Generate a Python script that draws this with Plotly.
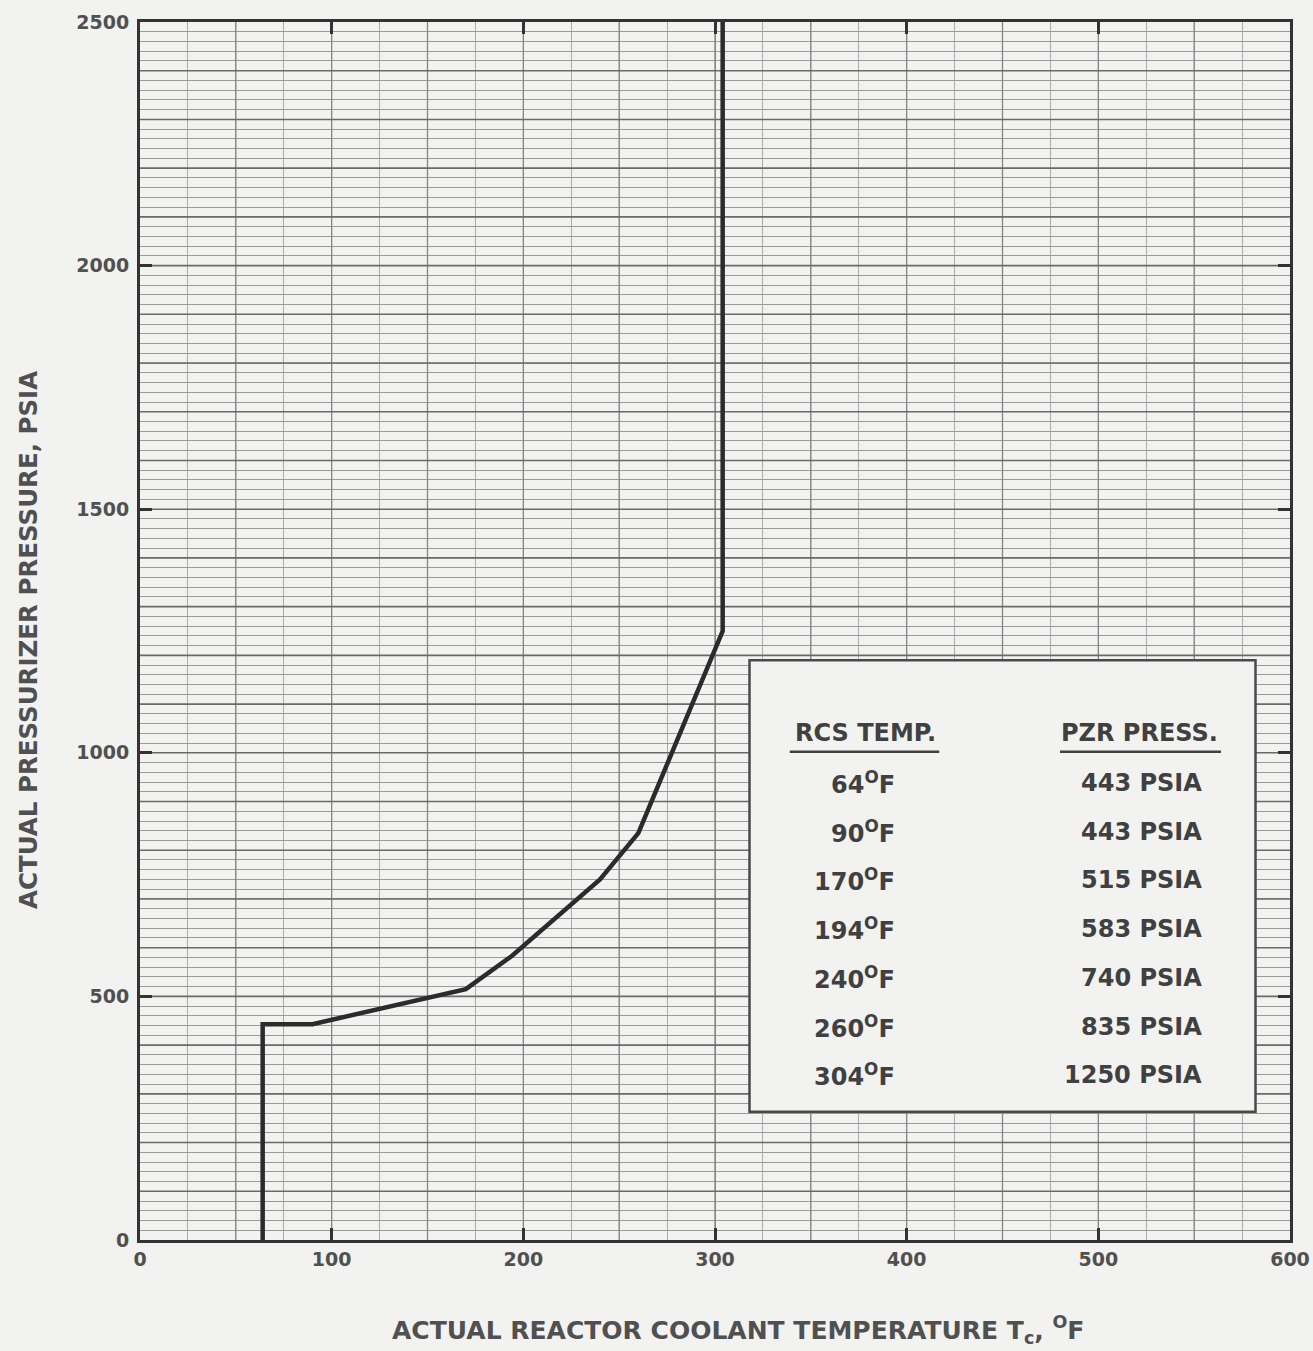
import plotly.graph_objects as go

# ---- data ----
rcs_temp_f = [64, 90, 170, 194, 240, 260, 304]
pzr_press_psia = [443, 443, 515, 583, 740, 835, 1250]
curve_start = (64, 0)
curve_end = (304, 2500)

x_ticks = [0, 100, 200, 300, 400, 500, 600]
y_ticks = [0, 500, 1000, 1500, 2000, 2500]

x_title = "ACTUAL REACTOR COOLANT TEMPERATURE T<sub>c</sub>, <sup>O</sup>F"
y_title = "ACTUAL PRESSURIZER PRESSURE, PSIA"

BG = "#f2f2f0"
INK = "#404040"
LABEL = "#505050"
FONT = "DejaVu Sans, Liberation Sans, Arial, sans-serif"

curve_x = [curve_start[0]] + rcs_temp_f + [curve_end[0]]
curve_y = [curve_start[1]] + pzr_press_psia + [curve_end[1]]

fig = go.Figure()
fig.add_trace(go.Scatter(x=curve_x, y=curve_y, mode="lines",
                         line=dict(color="#2b2b2b", width=4.5),
                         showlegend=False, hoverinfo="skip"))

shapes = []
# darker grid lines every 50 F and every 100 psia
for xv in range(50, 600, 50):
    shapes.append(dict(type="line", xref="x", yref="y", x0=xv, x1=xv, y0=0, y1=2500,
                       line=dict(color="#858585", width=1.3), layer="between"))
for yv in range(100, 2500, 100):
    shapes.append(dict(type="line", xref="x", yref="y", x0=0, x1=600, y0=yv, y1=yv,
                       line=dict(color="#6a6a6a", width=1.6), layer="between"))

# table box
box_x0, box_x1, box_y0, box_y1 = 318, 582, 263, 1190
shapes.append(dict(type="rect", xref="x", yref="y", x0=box_x0, x1=box_x1, y0=box_y0, y1=box_y1,
                   fillcolor=BG, line=dict(color="#4a4a4a", width=2.5), layer="between"))

TFONT = dict(size=24, color=INK, family=FONT, weight="bold")
annotations = []
col_t_right = 395
col_p_right = 555
head_y = 1040
annotations.append(dict(x=378.5, y=head_y, xref="x", yref="y", text="RCS TEMP.",
                        showarrow=False, font=TFONT))
annotations.append(dict(x=521.5, y=head_y, xref="x", yref="y", text="PZR PRESS.",
                        showarrow=False, font=TFONT))
shapes.append(dict(type="line", xref="x", yref="y", x0=339, x1=417, y0=1002, y1=1002,
                   line=dict(color=INK, width=2.5), layer="above"))
shapes.append(dict(type="line", xref="x", yref="y", x0=480, x1=564, y0=1002, y1=1002,
                   line=dict(color=INK, width=2.5), layer="above"))

row_y0 = 938
for i, (t, p) in enumerate(zip(rcs_temp_f, pzr_press_psia)):
    ry = row_y0 - 100 * i
    annotations.append(dict(x=col_t_right, y=ry, xref="x", yref="y", xanchor="right",
                            text=f"{t}<sup>O</sup>F", showarrow=False, font=TFONT))
    annotations.append(dict(x=col_p_right, y=ry, xref="x", yref="y", xanchor="right",
                            text=f"{p} PSIA", showarrow=False, font=TFONT))

# axis titles placed as annotations (paper coords)
annotations.append(dict(x=0.52, y=-0.074, xref="paper", yref="paper", text=x_title,
                        showarrow=False, xanchor="center", yanchor="middle",
                        font=dict(size=25, color=LABEL, family=FONT, weight="bold")))
annotations.append(dict(x=-0.097, y=0.493, xref="paper", yref="paper", text=y_title,
                        showarrow=False, textangle=-90, xanchor="center", yanchor="middle",
                        font=dict(size=24.5, color=LABEL, family=FONT, weight="bold")))

axis_common = dict(
    showline=True, linecolor="#333333", linewidth=3, mirror="ticks",
    ticks="inside", ticklen=12, tickwidth=3, tickcolor="#333333",
    showgrid=True, gridcolor="#858585", gridwidth=1.3,
    zeroline=False, automargin=False, ticklabeloverflow="allow",
    tickfont=dict(size=19, color=LABEL, family=FONT, weight="bold"),
)

fig.update_layout(
    width=1313, height=1351,
    margin=dict(l=140, r=23, t=22, b=111),
    paper_bgcolor=BG, plot_bgcolor=BG,
    font=dict(family=FONT, color=INK),
    shapes=shapes, annotations=annotations,
    xaxis=dict(range=[0, 600], tickmode="array", tickvals=x_ticks,
               ticktext=[str(v) for v in x_ticks],
               minor=dict(dtick=25, showgrid=True, gridcolor="#ababab", gridwidth=1, ticks=""),
               **axis_common),
    yaxis=dict(range=[0, 2500], tickmode="array", tickvals=y_ticks,
               ticktext=[str(v) for v in y_ticks], ticklabelstandoff=4,
               minor=dict(dtick=20, showgrid=True, gridcolor="#9a9a9a", gridwidth=1, ticks=""),
               **axis_common),
)

fig.write_html("out.html", config={"displayModeBar": False},
               post_script="document.body.style.margin='0';document.body.style.background='#f2f2f0';document.body.style.overflow='hidden';")
